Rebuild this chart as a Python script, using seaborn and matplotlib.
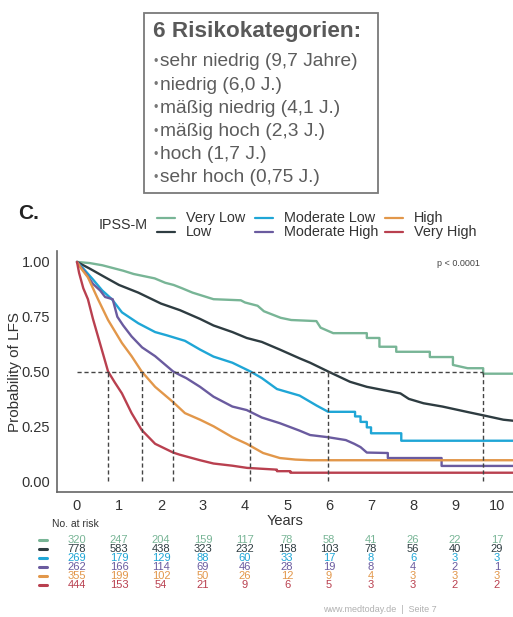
import numpy as np
import pandas as pd
import matplotlib
matplotlib.use("Agg")
import matplotlib.pyplot as plt
import matplotlib.transforms as mtransforms
from matplotlib.lines import Line2D
from matplotlib.patches import Rectangle
import seaborn as sns

# groups and colours
groups = ["Very Low", "Low", "Moderate Low", "Moderate High", "High", "Very High"]
colors = ["#78b596", "#2e3c41", "#1fa6d6", "#6a5b9f", "#e2974a", "#b9404f"]

# Kaplan-Meier curves (time in years, survival);
# repeated times are the visible step drops
t_vlow = [0, 0.3, 0.6, 0.9, 1.1, 1.35, 1.6, 1.85, 2.1, 2.3, 2.5, 2.75, 3.0, 3.25, 3.9, 4.0,
          4.3, 4.45, 4.65, 4.85, 5.1, 5.7, 5.8, 6.1, 6.9, 6.9, 7.2, 7.2, 7.6, 7.6, 8.4, 8.4,
          8.95, 8.95, 9.3, 9.67, 9.67, 10.4]
s_vlow = [1.0, 0.995, 0.985, 0.97, 0.96, 0.945, 0.935, 0.925, 0.905, 0.895, 0.88, 0.86, 0.845,
          0.83, 0.825, 0.815, 0.80, 0.775, 0.76, 0.745, 0.735, 0.73, 0.70, 0.675, 0.675, 0.653,
          0.653, 0.613, 0.613, 0.59, 0.59, 0.566, 0.566, 0.53, 0.515, 0.515, 0.49, 0.49]
t_low = [0, 0.3, 0.67, 1.0, 1.46, 2.0, 2.45, 2.57, 2.93, 3.25, 3.7, 4.04, 4.4, 4.83, 5.3, 5.55,
         5.98, 6.5, 6.9, 7.7, 7.9, 8.25, 8.7, 9.3, 9.67, 10.15, 10.4]
s_low = [1.0, 0.97, 0.93, 0.895, 0.86, 0.81, 0.78, 0.77, 0.74, 0.71, 0.68, 0.653, 0.635, 0.60,
         0.56, 0.54, 0.50, 0.453, 0.43, 0.40, 0.375, 0.355, 0.34, 0.315, 0.30, 0.28, 0.275]
t_modlow = [0, 0.15, 0.38, 0.6, 0.83, 1.07, 1.46, 1.86, 2.14, 2.57, 2.93, 3.25, 3.7, 4.13, 4.4,
            4.76, 5.3, 5.7, 5.98, 6.62, 6.62, 6.75, 6.75, 6.9, 6.9, 7.0, 7.0, 7.72, 7.72, 10.4]
s_modlow = [1.0, 0.97, 0.92, 0.87, 0.83, 0.77, 0.72, 0.68, 0.665, 0.64, 0.60, 0.568, 0.54, 0.50,
            0.47, 0.42, 0.39, 0.345, 0.316, 0.316, 0.295, 0.295, 0.27, 0.27, 0.245, 0.245,
            0.218, 0.218, 0.184, 0.184]
t_modhigh = [0, 0.2, 0.38, 0.55, 0.67, 0.85, 0.96, 1.1, 1.3, 1.55, 1.86, 2.29, 2.45, 2.6, 2.93,
             3.25, 3.7, 4.04, 4.4, 4.83, 5.3, 5.55, 5.98, 6.4, 6.6, 6.75, 6.9, 7.4, 7.4, 8.68,
             8.68, 10.4]
s_modhigh = [1.0, 0.95, 0.90, 0.87, 0.84, 0.83, 0.75, 0.71, 0.66, 0.61, 0.57, 0.50, 0.484, 0.47,
             0.43, 0.385, 0.34, 0.324, 0.29, 0.264, 0.23, 0.21, 0.20, 0.187, 0.17, 0.155, 0.13,
             0.128, 0.105, 0.105, 0.069, 0.069]
t_high = [0, 0.1, 0.26, 0.5, 0.74, 1.07, 1.3, 1.54, 1.86, 2.29, 2.57, 2.93, 3.25, 3.7, 4.04,
          4.43, 4.83, 5.2, 5.55, 10.4]
s_high = [1.0, 0.97, 0.93, 0.83, 0.735, 0.63, 0.57, 0.50, 0.43, 0.36, 0.31, 0.28, 0.25, 0.20,
          0.17, 0.128, 0.105, 0.098, 0.095, 0.095]
t_vhigh = [0, 0.05, 0.15, 0.26, 0.38, 0.5, 0.62, 0.74, 0.9, 1.07, 1.3, 1.54, 1.86, 2.29, 2.45,
           2.93, 3.25, 3.7, 4.05, 4.76, 4.76, 5.08, 5.08, 10.4]
s_vhigh = [1.0, 0.95, 0.88, 0.83, 0.74, 0.66, 0.58, 0.50, 0.45, 0.40, 0.31, 0.233, 0.17, 0.13,
           0.12, 0.095, 0.08, 0.07, 0.06, 0.052, 0.045, 0.045, 0.038, 0.038]

medians = [0.74, 1.54, 2.29, 4.13, 5.98, 9.67]

# numbers at risk
risk_years = [0, 1, 2, 3, 4, 5, 6, 7, 8, 9, 10]
risk_vlow = [320, 247, 204, 159, 117, 78, 58, 41, 26, 22, 17]
risk_low = [778, 583, 438, 323, 232, 158, 103, 78, 56, 40, 29]
risk_modlow = [269, 179, 129, 88, 60, 33, 17, 8, 6, 3, 3]
risk_modhigh = [262, 166, 114, 69, 46, 28, 19, 8, 4, 2, 1]
risk_high = [355, 199, 102, 50, 26, 12, 9, 4, 3, 3, 3]
risk_vhigh = [444, 153, 54, 21, 9, 6, 5, 3, 3, 2, 2]

box_title = "6 Risikokategorien:"
box_items = ["sehr niedrig (9,7 Jahre)", "niedrig (6,0 J.)", "mäßig niedrig (4,1 J.)",
             "mäßig hoch (2,3 J.)", "hoch (1,7 J.)", "sehr hoch (0,75 J.)"]

curves = [(t_vlow, s_vlow), (t_low, s_low), (t_modlow, s_modlow),
          (t_modhigh, s_modhigh), (t_high, s_high), (t_vhigh, s_vhigh)]
risks = [risk_vlow, risk_low, risk_modlow, risk_modhigh, risk_high, risk_vhigh]

df = pd.concat([pd.DataFrame({"Years": t, "LFS": s, "group": g})
                for g, (t, s) in zip(groups, curves)], ignore_index=True)

sns.set_style("white")
plt.rcParams["font.family"] = ["Liberation Sans", "DejaVu Sans"]

W, H = 513, 617
fig = plt.figure(figsize=(W / 100, H / 100), dpi=100)
fx = lambda x: x / W
fy = lambda y: 1 - y / H

ax = fig.add_axes([fx(57), fy(492), fx(513) - fx(57), fy(251) - fy(492)])
sns.lineplot(data=df, x="Years", y="LFS", hue="group", hue_order=groups,
             palette=colors, estimator=None, sort=False,
             linewidth=1.7, legend=False, ax=ax)

# median lines
ax.plot([0, max(medians)], [0.5, 0.5], ls=(0, (3, 2)), color="#444444", lw=1.0, zorder=5)
for m in medians:
    ax.plot([m, m], [0, 0.5], ls=(0, (3, 2)), color="#444444", lw=1.0, zorder=5)

ax.set_xlim(-0.476, 10.38)
ax.set_ylim(-0.05, 1.05)
ax.set_xticks(risk_years)
ax.set_yticks([0, 0.25, 0.5, 0.75, 1.0])
ax.set_yticklabels(["0.00", "0.25", "0.50", "0.75", "1.00"])
ax.tick_params(labelsize=10.5, colors="#333333", length=3, width=0.8, pad=2)
ax.set_xlabel("Years", fontsize=10.5, color="#333333")
ax.xaxis.set_label_coords(0.5, -0.09)
ax.set_ylabel("Probability of LFS", fontsize=11, color="#333333")
ax.yaxis.set_label_coords(-0.077, 0.5)
for side in ["top", "right"]:
    ax.spines[side].set_visible(False)
for side in ["left", "bottom"]:
    ax.spines[side].set_color("#666666")
    ax.spines[side].set_linewidth(1.2)
ax.text(fx(458), fy(264), "p < 0.0001", transform=fig.transFigure, fontsize=6.5,
        color="#444444", ha="center", va="center")

# legend
fig.text(fx(148), fy(225), "IPSS-M", fontsize=10.3, color="#333333", ha="right", va="center")
leg_x = [157, 255, 385]
leg_y = [218, 232]
for i, (g, c) in enumerate(zip(groups, colors)):
    col, row = i // 2, i % 2
    x0, y0 = leg_x[col], leg_y[row]
    fig.add_artist(Line2D([fx(x0), fx(x0 + 18)], [fy(y0), fy(y0)], color=c, lw=1.6,
                          transform=fig.transFigure))
    fig.text(fx(x0 + 29), fy(y0), g, fontsize=10.4, color="#333333", va="center")

fig.text(fx(18), fy(214), "C.", fontsize=15, fontweight="bold", color="#222222", va="center")

# number at risk table
fig.text(fx(52), fy(524), "No. at risk", fontsize=7.5, color="#333333", va="center")
trans = mtransforms.blended_transform_factory(ax.transData, fig.transFigure)
row_y = [540, 549, 558, 567, 576, 585]
for r, c, yy in zip(risks, colors, row_y):
    fig.add_artist(Line2D([fx(39), fx(47)], [fy(yy), fy(yy)], color=c, lw=2.2,
                          transform=fig.transFigure))
    for yr, n in zip(risk_years, r):
        ax.text(yr, fy(yy), str(n), transform=trans, fontsize=8, color=c,
                ha="center", va="center", clip_on=False)

# top box
fig.add_artist(Rectangle((fx(144), fy(193)), fx(378) - fx(144), fy(13) - fy(193),
                         transform=fig.transFigure, fill=False, edgecolor="#7a7a7a", lw=1.3))
fig.text(fx(153), fy(32), box_title, fontsize=16.2, fontweight="bold", color="#595959",
         va="center")
for i, item in enumerate(box_items):
    yy = 62 + 23.2 * i
    fig.text(fx(154), fy(yy), "•", fontsize=9, color="#777777", va="center")
    fig.text(fx(160), fy(yy), item, fontsize=13.8, color="#5c5c5c", va="center")

fig.text(fx(380), fy(609), "www.medtoday.de  |  Seite 7", fontsize=6.5, color="#b0b0b0",
         ha="center", va="center")

fig.savefig("out.png", dpi=100)
